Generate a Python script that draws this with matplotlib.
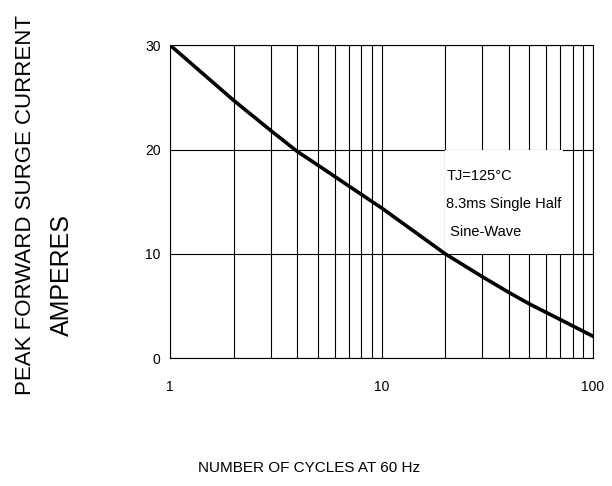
import numpy as np
import matplotlib
matplotlib.use('Agg')
import matplotlib.pyplot as plt
from matplotlib.patches import Rectangle
from matplotlib.ticker import FixedLocator, NullFormatter

# surge current vs number of cycles
cycles = [1, 2, 3, 4, 5, 7, 10, 20, 30, 40, 50, 70, 100]
current = [30.0, 24.7, 21.8, 19.8, 18.5, 16.5, 14.4, 10.0, 7.8, 6.3, 5.2, 3.7, 2.1]

x_ticks = [1, 10, 100]
x_tick_labels = ['1', '10', '100']
y_ticks = [0, 10, 20, 30]
note_lines = ['TJ=125°C', '8.3ms Single Half', ' Sine-Wave']

plt.rcParams['font.family'] = ['Liberation Sans', 'DejaVu Sans']

fig = plt.figure(figsize=(6.12, 4.86), dpi=100)
ax = fig.add_axes([0.278, 0.263, 0.691, 0.644])

ax.set_xscale('log')
ax.set_xlim(1, 100)
ax.set_ylim(0, 30)

minor = [m * d for d in (1, 10) for m in range(2, 10)]
ax.xaxis.set_minor_locator(FixedLocator(minor))
ax.xaxis.set_minor_formatter(NullFormatter())
ax.set_xticks(x_ticks)
ax.set_xticklabels(x_tick_labels)
ax.set_yticks(y_ticks)

ax.grid(True, which='both', axis='x', color='black', lw=0.8)
ax.grid(True, which='major', axis='y', color='black', lw=0.8)
ax.set_axisbelow(True)
ax.tick_params(which='both', length=0)
ax.tick_params(axis='x', pad=16, labelsize=10)
ax.tick_params(axis='y', pad=7, labelsize=10)
for s in ax.spines.values():
    s.set_linewidth(0.8)

# white box behind the note
ax.add_patch(Rectangle((20, 10), 52, 10, facecolor='white', edgecolor='none', zorder=1.5))
ax.plot(cycles, current, color='black', lw=2.6, zorder=3)

ax.text(20.2, 17.5, note_lines[0], fontsize=10.5, va='center', zorder=4)
ax.text(20.2, 14.8, note_lines[1], fontsize=10.5, va='center', zorder=4)
ax.text(20.2, 12.1, note_lines[2], fontsize=10.5, va='center', zorder=4)

fig.text(0.042, 0.578, 'PEAK FORWARD SURGE CURRENT', rotation=90, fontsize=16,
         ha='center', va='center')
fig.text(0.102, 0.435, 'AMPERES', rotation=90, fontsize=18, ha='center', va='center')
fig.text(0.505, 0.037, 'NUMBER OF CYCLES AT 60 Hz', fontsize=11,
         ha='center', va='center')

fig.savefig('out.png', dpi=100)
